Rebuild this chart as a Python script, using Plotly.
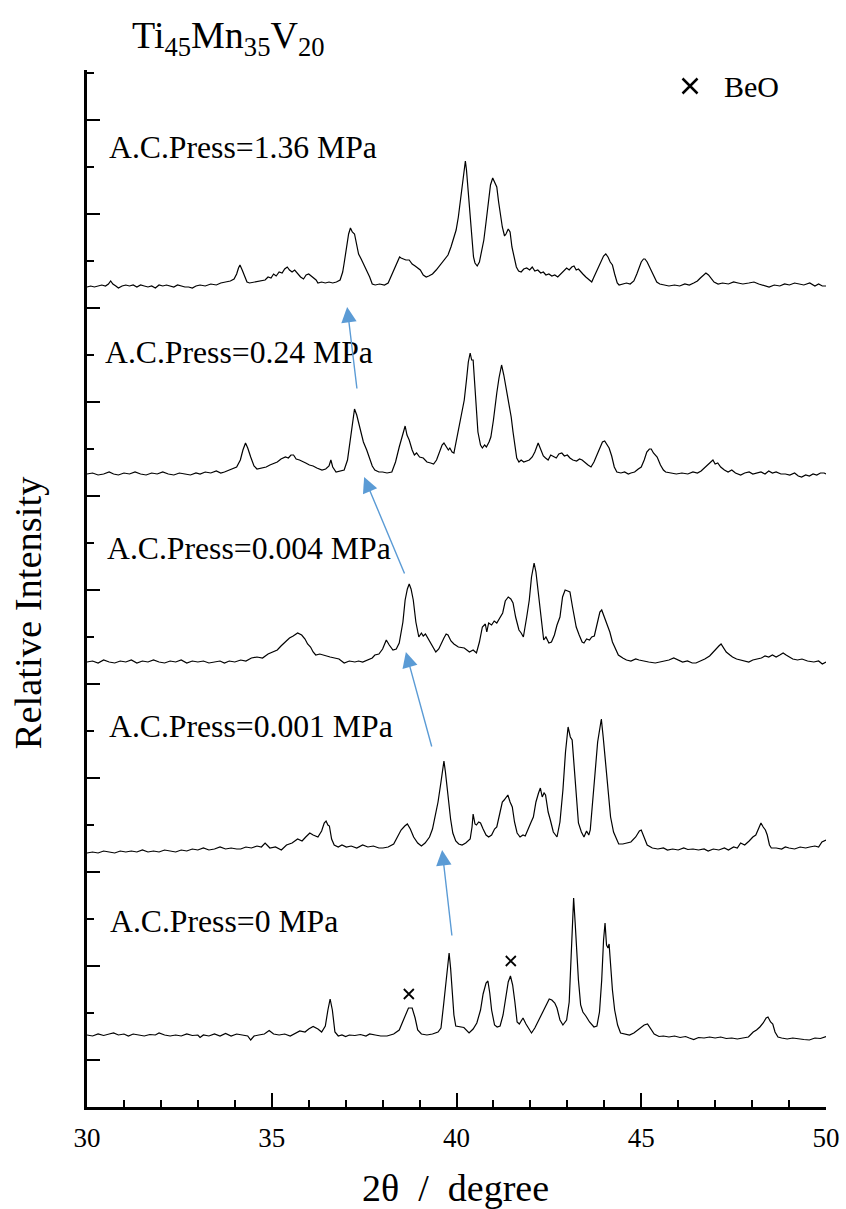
import plotly.graph_objects as go

# ---------------- data (2theta in degree, relative intensity in a.u.) ----------------
two_theta_0 = [30.00,30.15,30.30,30.45,30.60,30.72,30.85,31.00,31.12,31.25,31.40,31.55,31.70,31.85,31.95,32.10,32.25,32.40,32.55,32.70,32.85,33.00,33.06,33.15,33.30,33.45,33.60,33.75,33.90,34.05,34.20,34.35,34.43,34.52,34.65,34.80,34.93,35.05,35.20,35.35,35.50,35.62,35.76,35.90,36.00,36.12,36.25,36.35,36.45,36.52,36.58,36.64,36.71,36.80,36.90,37.00,37.10,37.25,37.40,37.55,37.65,37.80,37.95,38.12,38.30,38.45,38.59,38.70,38.80,38.88,38.95,39.05,39.20,39.35,39.50,39.58,39.65,39.70,39.76,39.80,39.84,39.88,39.93,39.98,40.10,40.20,40.34,40.45,40.55,40.65,40.72,40.80,40.85,40.90,40.95,41.03,41.10,41.18,41.26,41.33,41.40,41.46,41.52,41.58,41.64,41.70,41.80,41.88,41.96,42.03,42.12,42.20,42.27,42.35,42.45,42.51,42.58,42.66,42.72,42.80,42.88,42.98,43.05,43.10,43.14,43.17,43.21,43.25,43.30,43.36,43.42,43.50,43.60,43.72,43.80,43.87,43.93,43.98,44.02,44.06,44.10,44.13,44.17,44.22,44.28,44.36,44.44,44.55,44.68,44.80,44.90,44.98,45.08,45.17,45.25,45.35,45.48,45.60,45.75,45.90,46.05,46.20,46.30,46.42,46.55,46.70,46.85,47.00,47.15,47.30,47.45,47.60,47.75,47.90,48.03,48.12,48.21,48.30,48.38,48.43,48.50,48.56,48.62,48.70,48.80,48.95,49.10,49.25,49.40,49.55,49.70,49.85,50.00]
intensity_0 = [5,4,6,4.5,6,7,5,6,4,6,5,4,5.5,5,7,5,4,5,4,6,4.5,5,2.5,5,4,6,4,6.5,4,6,5,4,0,4,5,6,9.5,6,5,6,4,6,9,8,11,13.5,11,8,14,30,41,30,8,4,5,3.5,5,4.5,5.5,4,6,5,4,4,6,10,23,32,32,22,10,6,5,6,8,12,35,55,75,87,72,50,25,14,13,12.5,7,11,17,30,46,57,59,47,30,15,13,14,25,42,58,64,55,38,18,16,22,16,11,7,12,18,24,30,37,41,40,37,32,20,15,20,38,85,120,142,118,92,60,35,28,24,18,13,14,28,60,100,117,95,92,96,75,50,30,15,7,6,5,7,10,12,15,16,11,6,3.5,4,3,4,2.5,3.5,2,0.5,2.5,2,3,2,3,1.5,2,1,2,3,8,10,13,17,22,23,18,16,8,3,2,1,2,1,0.5,0,2,1.5,3.5]

two_theta_1 = [30.00,30.15,30.30,30.45,30.60,30.75,30.90,31.05,31.20,31.35,31.50,31.65,31.80,31.95,32.10,32.25,32.40,32.55,32.70,32.85,33.00,33.15,33.30,33.45,33.60,33.75,33.90,34.05,34.16,34.30,34.45,34.60,34.72,34.82,34.95,35.10,35.26,35.40,35.55,35.70,35.82,35.92,36.03,36.12,36.25,36.35,36.42,36.47,36.52,36.56,36.62,36.69,36.80,36.90,37.02,37.15,37.30,37.46,37.60,37.75,37.90,38.01,38.15,38.30,38.40,38.50,38.60,38.67,38.75,38.84,38.95,39.05,39.15,39.27,39.35,39.42,39.50,39.58,39.63,39.66,39.70,39.75,39.79,39.84,39.90,39.98,40.06,40.15,40.25,40.37,40.42,40.45,40.50,40.54,40.60,40.65,40.72,40.80,40.87,40.95,41.03,41.09,41.18,41.24,41.29,41.35,41.39,41.45,41.51,41.57,41.64,41.72,41.80,41.86,41.95,42.02,42.08,42.15,42.22,42.27,42.32,42.37,42.41,42.48,42.54,42.62,42.72,42.80,42.88,42.95,43.02,43.08,43.13,43.20,43.25,43.30,43.38,43.45,43.52,43.58,43.62,43.68,43.75,43.82,43.88,43.92,43.97,44.04,44.10,44.17,44.25,44.32,44.39,44.50,44.60,44.72,44.85,44.95,45.00,45.08,45.16,45.30,45.45,45.60,45.71,45.85,46.00,46.15,46.26,46.40,46.55,46.70,46.81,46.95,47.10,47.25,47.36,47.50,47.60,47.69,47.80,47.92,48.02,48.10,48.18,48.24,48.30,48.36,48.41,48.47,48.52,48.65,48.80,48.90,49.00,49.15,49.30,49.45,49.56,49.70,49.80,49.89,50.00]
intensity_1 = [4,5,4,6,5,4,6,5,6,5,7,5,6,5,7,6,5,7,6,8,7,9,7,8,10,8,9,8,8,10,9,11,10,14,9,10,7,12,14,18,16,20,24,22,20,26,34,36,32,31,18,12,10,12,10,11,9,12,10,11,9,9,10,13,20,27,31,33,28,20,14,11,14,20,28,40,55,75,90,96,85,68,57,38,24,16,13,12,14,18,30,43,33,32,35,34,28,22,20,22,28,30,45,55,57,60,62,55,50,35,24,20,22,21,28,35,40,55,64,69,60,64,62,45,37,25,20,35,67,105,130,120,117,80,50,34,25,20,26,22,27,50,84,115,130,138,120,94,65,40,25,18,13,13,14,15,20,26,27,20,12,9,8,9,7,8,7,9,7.5,8,7,8,6,8,7,9,7,10,9,14,12,16,20,22,30,34,30,27,22,12,9,9,8,10,9,8,10,9,10,11,10,15,17]

two_theta_2 = [30.00,30.15,30.30,30.45,30.60,30.75,30.90,31.05,31.20,31.35,31.50,31.65,31.80,31.95,32.10,32.25,32.40,32.55,32.70,32.85,33.00,33.15,33.30,33.45,33.60,33.72,33.85,34.00,34.16,34.30,34.45,34.60,34.75,34.90,35.04,35.15,35.25,35.37,35.48,35.58,35.70,35.81,35.90,35.97,36.05,36.12,36.19,36.30,36.45,36.58,36.70,36.82,36.96,37.10,37.25,37.35,37.46,37.60,37.72,37.79,37.90,38.00,38.10,38.18,38.28,38.37,38.45,38.55,38.61,38.67,38.72,38.77,38.83,38.90,38.98,39.05,39.10,39.16,39.25,39.35,39.44,39.52,39.60,39.66,39.72,39.77,39.85,39.93,40.05,40.21,40.35,40.45,40.54,40.62,40.70,40.78,40.82,40.87,40.95,41.02,41.09,41.15,41.25,41.32,41.40,41.47,41.53,41.60,41.69,41.75,41.81,41.90,41.97,42.03,42.10,42.15,42.21,42.28,42.36,42.42,42.50,42.57,42.65,42.72,42.80,42.87,42.94,43.01,43.07,43.14,43.24,43.32,43.40,43.45,43.52,43.60,43.66,43.73,43.80,43.88,43.93,43.98,44.06,44.15,44.22,44.28,44.38,44.50,44.60,44.72,44.85,44.94,45.05,45.20,45.38,45.50,45.62,45.75,45.88,46.00,46.12,46.25,46.38,46.48,46.60,46.72,46.85,46.92,47.02,47.10,47.16,47.22,47.30,47.40,47.47,47.58,47.70,47.80,47.91,48.02,48.15,48.25,48.35,48.45,48.55,48.65,48.75,48.84,48.92,49.00,49.10,49.23,49.35,49.50,49.67,49.80,49.90,50.00]
intensity_2 = [5,6,4,7,5,4,6,5,7,4,6,5,7,5,4,6,5,7,4,6,5,6,4,5,6,4,6,5,7,6,9,10,9,13,15,17,21,25,29,31,34,32,28,23,20,15,12,13,11,10,9,8,4,6,5,6,5,7,9,12,13,18,27,22,17,18,24,45,67,78,83,78,67,45,30,34,31,33,27,20,15,18,25,29,33,32,26,23,20,19,15,17,14,25,40,43,35,44,42,46,44,48,54,66,70,68,64,50,37,34,30,50,67,90,104,95,77,50,27,30,24,25,32,42,50,70,77,76,75,60,40,32,25,24,28,27,30,31,42,55,57,52,44,35,25,20,12,9,7,6,8,7,6,5,4,5,6,7,9,7,5,6,4,4,6,8,11,14,18,21,23,19,15,12,10,8,7,6,5,7,8,9,11,10,12,10,12,14,12,10,8,7,8,6,5,6,3,5]

two_theta_3 = [30.00,30.15,30.30,30.45,30.60,30.72,30.85,31.00,31.15,31.30,31.45,31.60,31.75,31.90,32.05,32.20,32.35,32.50,32.65,32.80,32.95,33.06,33.20,33.35,33.50,33.62,33.72,33.85,33.95,34.05,34.15,34.22,34.29,34.35,34.43,34.52,34.60,34.72,34.85,34.95,35.04,35.15,35.25,35.32,35.37,35.45,35.52,35.59,35.66,35.75,35.84,35.92,36.02,36.12,36.22,36.36,36.46,36.55,36.60,36.65,36.74,36.85,36.96,37.05,37.13,37.19,37.24,37.30,37.36,37.40,37.48,37.57,37.65,37.72,37.79,37.90,38.00,38.12,38.25,38.35,38.45,38.52,38.58,38.61,38.66,38.72,38.80,38.86,38.92,39.00,39.10,39.20,39.30,39.38,39.46,39.55,39.61,39.66,39.72,39.78,39.82,39.88,39.93,40.00,40.04,40.10,40.16,40.21,40.27,40.32,40.37,40.41,40.45,40.50,40.54,40.58,40.65,40.70,40.76,40.81,40.88,40.93,41.00,41.05,41.09,41.15,41.22,41.28,41.33,41.36,41.42,41.48,41.53,41.58,41.63,41.69,41.75,41.82,41.90,41.97,42.05,42.12,42.21,42.28,42.35,42.41,42.48,42.55,42.63,42.70,42.77,42.85,42.92,43.00,43.07,43.15,43.25,43.33,43.40,43.48,43.56,43.64,43.72,43.80,43.88,43.95,44.01,44.07,44.13,44.20,44.27,44.34,44.45,44.55,44.65,44.72,44.82,44.92,45.00,45.08,45.15,45.22,45.27,45.33,45.43,45.52,45.60,45.66,45.80,45.95,46.10,46.26,46.40,46.52,46.62,46.70,46.78,46.86,46.94,47.00,47.07,47.15,47.25,47.35,47.45,47.55,47.69,47.80,47.92,48.02,48.12,48.24,48.35,48.45,48.55,48.65,48.78,48.90,49.02,49.15,49.25,49.34,49.45,49.55,49.65,49.75,49.85,49.95,50.00]
intensity_3 = [6,7,5,6,8,6,5,7,6,8,6,5,7,6,8,6,5,7,6,5,7,6,8,7,9,7,8,10,11,13,20,30,37,32,23,14,11,12,13,15,16,18,21,22,23,22,25,25,21,20,18,17,15,14,12,10,11,14,20,13,8,9,10,20,40,60,71,65,55,50,38,30,22,14,10,8,8,7,8,18,33,42,50,54,45,40,30,25,27,23,22,18,17,16,20,28,35,37,34,30,32,28,27,40,50,60,70,80,100,118,127,120,120,95,70,48,35,32,35,33,38,43,60,78,87,102,115,105,95,87,75,63,48,33,22,18,20,18,19,20,23,28,37,30,24,22,20,25,23,22,26,27,24,25,22,20,19,21,20,17,15,13,18,25,33,38,39,36,32,24,13,8,7,8,6,7,8,11,13,20,28,31,31,27,23,15,10,8,7,6,7,6,8,7,9,12,14,17,20,16,17,13,10,8,10,7,5,7,8,6,7,8,6,9,7,8,6,6,5,7,4,3,5,4,6,5,7,7,6]

two_theta_4 = [30.00,30.10,30.20,30.30,30.40,30.50,30.58,30.64,30.70,30.78,30.85,30.95,31.05,31.15,31.25,31.35,31.45,31.55,31.65,31.75,31.85,31.95,32.05,32.15,32.25,32.35,32.45,32.55,32.65,32.75,32.85,32.95,33.06,33.20,33.35,33.50,33.62,33.75,33.88,33.98,34.05,34.10,34.14,34.20,34.27,34.33,34.40,34.52,34.65,34.75,34.82,34.90,34.98,35.05,35.12,35.20,35.28,35.35,35.42,35.48,35.55,35.62,35.70,35.78,35.86,35.93,36.00,36.06,36.12,36.20,36.25,36.35,36.45,36.55,36.65,36.75,36.85,36.92,36.96,37.02,37.08,37.13,37.18,37.24,37.30,37.35,37.42,37.50,37.57,37.65,37.72,37.80,37.92,38.05,38.15,38.25,38.34,38.40,38.46,38.50,38.56,38.63,38.72,38.80,38.88,38.94,39.02,39.10,39.18,39.25,39.35,39.45,39.55,39.65,39.72,39.77,39.85,39.93,39.99,40.05,40.10,40.14,40.18,40.21,40.24,40.27,40.30,40.34,40.38,40.42,40.46,40.50,40.56,40.62,40.68,40.74,40.80,40.86,40.92,40.98,41.03,41.09,41.14,41.19,41.24,41.30,41.34,41.40,41.45,41.50,41.56,41.62,41.68,41.75,41.82,41.90,41.98,42.05,42.12,42.20,42.28,42.35,42.42,42.50,42.58,42.66,42.74,42.82,42.90,42.98,43.05,43.12,43.18,43.24,43.30,43.36,43.42,43.50,43.58,43.66,43.72,43.80,43.86,43.92,43.98,44.04,44.10,44.16,44.22,44.28,44.35,44.40,44.50,44.60,44.70,44.80,44.88,44.94,45.00,45.06,45.10,45.16,45.22,45.28,45.35,45.42,45.50,45.62,45.75,45.90,46.04,46.18,46.30,46.42,46.52,46.60,46.68,46.75,46.82,46.90,46.97,47.08,47.20,47.36,47.50,47.62,47.75,47.91,48.05,48.18,48.30,48.46,48.60,48.75,48.88,49.01,49.15,49.28,49.40,49.56,49.70,49.80,49.90,50.00]
intensity_4 = [5,6,5,6,7,6,8,11,8,6,4,6,7,6,7,5,7,6,5,6,4,7,6,7,6,5,7,6,5,5,4,6,7,6,8,7,9,10,11,13,18,24,27,22,15,10,9,10,11,12,12,15,14,18,16,20,19,23,25,22,20,22,18,15,13,17,18,16,15,12,9,10,9,10,9,10,12,20,29,45,58,64,60,58,45,38,33,27,22,15,8,7,8,7,9,18,25,31,35,34,33,32,32,28,26,24,22,17,15,16,18,22,27,32,35,37,45,55,62,75,90,105,118,128,131,122,108,94,72,48,35,29,26,30,40,52,70,92,107,114,110,105,90,75,65,56,58,63,60,45,34,25,21,20,23,24,22,25,21,22,19,20,17,18,16,17,15,18,21,24,22,25,26,22,23,20,18,15,12,10,15,22,27,32,36,38,35,30,27,18,9,7,8,9,8,11,18,25,30,33,33,30,25,20,14,10,8,7,6,7,6,8,7,9,11,14,17,19,17,13,10,8,9,8,10,9,8,9,10,8,7,5,7,6,8,7,9,8,7,9,6,8,6,6]

two_theta_sets = [two_theta_0, two_theta_1, two_theta_2, two_theta_3, two_theta_4]
intensity_sets = [intensity_0, intensity_1, intensity_2, intensity_3, intensity_4]
stack_offsets = [67, 250, 440, 627, 815]
sample_labels = ["A.C.Press=0 MPa", "A.C.Press=0.001 MPa", "A.C.Press=0.004 MPa",
                 "A.C.Press=0.24 MPa", "A.C.Press=1.36 MPa"]
label_pos_x = [30.57, 30.54, 30.49, 30.43, 30.54]
label_pos_y = [186, 381, 559, 755, 960]

beo_x = [38.71, 41.47]
beo_y = [113, 146]

# arrows: (tail x, tail y, head x, head y)
arrow_tail_x = [39.88, 39.34, 38.61, 37.31]
arrow_tail_y = [170, 359, 532, 717]
arrow_head_x = [39.61, 38.63, 37.50, 37.04]
arrow_head_y = [257, 455, 630, 800]

FONT = "Liberation Serif"

fig = go.Figure()
for tt, inten, off in zip(two_theta_sets, intensity_sets, stack_offsets):
    fig.add_trace(go.Scatter(x=tt, y=[off + v for v in inten], mode="lines",
                             line=dict(color="black", width=1.2), showlegend=False,
                             hoverinfo="skip"))

fig.add_trace(go.Scatter(x=beo_x, y=beo_y, mode="markers",
                         marker=dict(symbol="x-thin", size=10, line=dict(color="black", width=1.8)),
                         showlegend=False))
# legend-like marker
fig.add_trace(go.Scatter(x=[46.32], y=[1021], mode="markers",
                         marker=dict(symbol="x-thin", size=15, line=dict(color="black", width=2.5)),
                         showlegend=False))

annotations = []
for lbl, lx, ly in zip(sample_labels, label_pos_x, label_pos_y):
    annotations.append(dict(x=lx, y=ly, xref="x", yref="y", text=lbl, showarrow=False,
                            xanchor="left", yanchor="middle",
                            font=dict(family=FONT, size=31.7, color="black")))
annotations.append(dict(x=47.19, y=1021, xref="x", yref="y", text="BeO", showarrow=False,
                        xanchor="left", yanchor="middle",
                        font=dict(family=FONT, size=30, color="black")))
for tx, ty, hx, hy in zip(arrow_tail_x, arrow_tail_y, arrow_head_x, arrow_head_y):
    annotations.append(dict(x=hx, y=hy, xref="x", yref="y", ax=tx, ay=ty,
                            axref="x", ayref="y", text="", showarrow=True,
                            arrowhead=2, arrowsize=2.2, arrowwidth=1.4,
                            arrowcolor="#5B9BD5"))
annotations.append(dict(x=0.058, y=1.031, xref="paper", yref="paper",
                        text="Ti<sub>45</sub>Mn<sub>35</sub>V<sub>20</sub>",
                        showarrow=False, xanchor="left", yanchor="middle",
                        font=dict(family=FONT, size=38, color="black")))
annotations.append(dict(x=0.498, y=-0.078, xref="paper", yref="paper",
                        text="2θ  /  degree", showarrow=False,
                        xanchor="center", yanchor="middle",
                        font=dict(family=FONT, size=38, color="black")))
annotations.append(dict(x=-0.080, y=0.477, xref="paper", yref="paper",
                        text="Relative Intensity", showarrow=False, textangle=-90,
                        xanchor="center", yanchor="middle",
                        font=dict(family=FONT, size=38.5, color="black")))

fig.update_layout(
    width=846, height=1209, autosize=False,
    margin=dict(l=87, r=20, t=70, b=102, autoexpand=False),
    paper_bgcolor="white", plot_bgcolor="white",
    annotations=annotations,
    font=dict(family=FONT, color="black"),
)
fig.update_xaxes(range=[30, 50], tickmode="linear", tick0=30, dtick=5,
                 ticks="inside", ticklen=14, tickwidth=2, tickcolor="black",
                 showline=True, linewidth=2.5, linecolor="black",
                 showgrid=False, zeroline=False, automargin=False,
                 tickfont=dict(family=FONT, size=27, color="black"),
                 ticklabelstandoff=5,
                 minor=dict(dtick=1, tick0=30, ticks="inside", ticklen=7,
                            tickwidth=2, tickcolor="black", showgrid=False))
fig.update_yaxes(range=[0, 1037], tickmode="linear", tick0=47, dtick=94,
                 ticks="inside", ticklen=13, tickwidth=2, tickcolor="black",
                 showline=True, linewidth=2.5, linecolor="black",
                 showgrid=False, zeroline=False, showticklabels=False, automargin=False,
                 minor=dict(dtick=47, tick0=0, ticks="inside", ticklen=7,
                            tickwidth=2, tickcolor="black", showgrid=False))

fig.write_html("out.html", config={"responsive": False})
